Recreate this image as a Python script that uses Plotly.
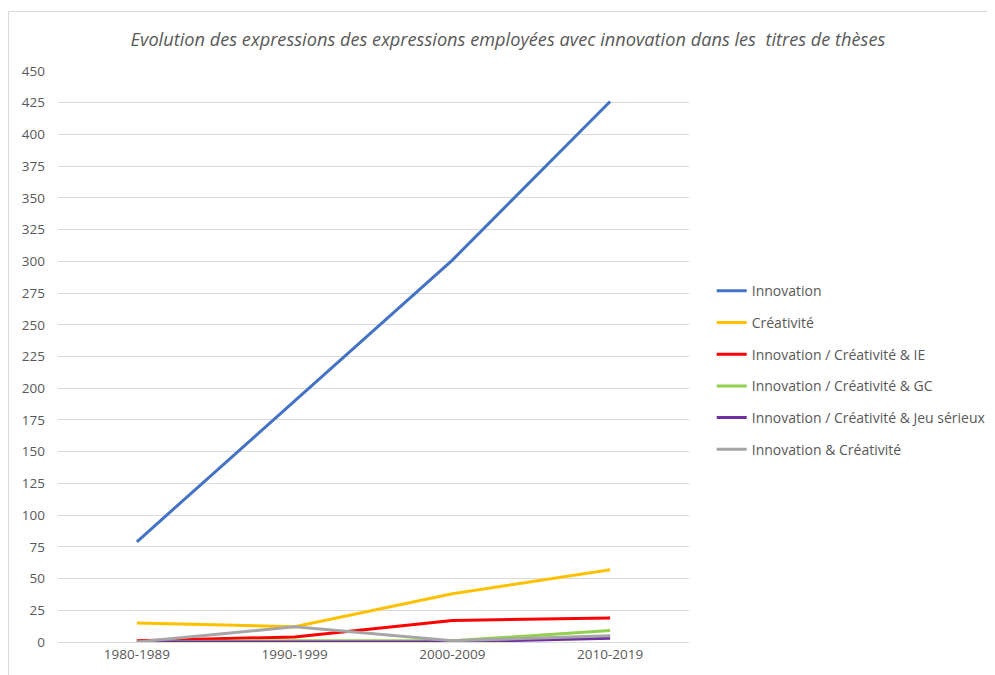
import plotly.graph_objects as go

periods = ["1980-1989", "1990-1999", "2000-2009", "2010-2019"]

innovation = [79, 190, 301, 426]
creativite = [15, 12, 38, 57]
innov_creat_ie = [1, 4, 17, 19]
innov_creat_gc = [0, 1, 1, 9]
innov_creat_jeu = [0, 0, 0, 3]
innov_et_creat = [0, 12, 1, 5]

series_names = [
    "Innovation",
    "Créativité",
    "Innovation / Créativité & IE",
    "Innovation / Créativité & GC",
    "Innovation / Créativité & Jeu sérieux",
    "Innovation & Créativité",
]
series_values = [innovation, creativite, innov_creat_ie, innov_creat_gc,
                 innov_creat_jeu, innov_et_creat]
colors = ["#4472C4", "#FFC000", "#FF0000", "#92D050", "#7030A0", "#A5A5A5"]

fig = go.Figure()
for i, (name, vals, col) in enumerate(zip(series_names, series_values, colors)):
    fig.add_trace(go.Scatter(
        x=periods, y=vals, name=name, mode="lines",
        line=dict(color=col, width=3),
        legendgroup="g%d" % i,
    ))

# page has an 8px body margin, so the figure is laid out 8px up/left
fig.update_layout(
    width=995, height=675,
    margin=dict(l=50, r=314, t=63, b=41, autoexpand=False),
    paper_bgcolor="white", plot_bgcolor="white",
    font=dict(family="Open Sans", size=13, color="#595959"),
    title=dict(
        text="<i>Evolution des expressions des expressions employées avec innovation dans les  titres de thèses</i>",
        x=0.5025, xanchor="center", xref="container", y=0.953, yanchor="middle",
        font=dict(family="Open Sans", size=18.2, color="#595959"),
    ),
    legend=dict(
        x=1.036, xanchor="left", y=0.476, yanchor="middle",
        font=dict(size=14, color="#595959"),
        traceorder="grouped", tracegroupgap=10.5,
        bgcolor="rgba(0,0,0,0)",
    ),
    showlegend=True,
)

fig.update_xaxes(
    range=[-0.5, 3.5], showgrid=False, showline=True, linecolor="#D9D9D9",
    linewidth=1, ticks="", tickfont=dict(size=13.5, color="#595959"),
)
fig.update_yaxes(
    range=[0, 450], dtick=25, showgrid=True, gridcolor="#D9D9D9", gridwidth=1,
    zeroline=False, showline=False, ticks="", ticklabelstandoff=12,
    tickfont=dict(size=13.5, color="#595959"),
)

# outer chart border (cropped on the right and bottom in the reference)
fig.add_shape(type="rect", xref="paper", yref="paper",
              x0=(0.5 - 50) / 631, x1=1.6, y0=-0.2, y1=(634 - 3.5) / 571,
              line=dict(color="#D9D9D9", width=1), layer="below")

fig.write_html("out.html")
